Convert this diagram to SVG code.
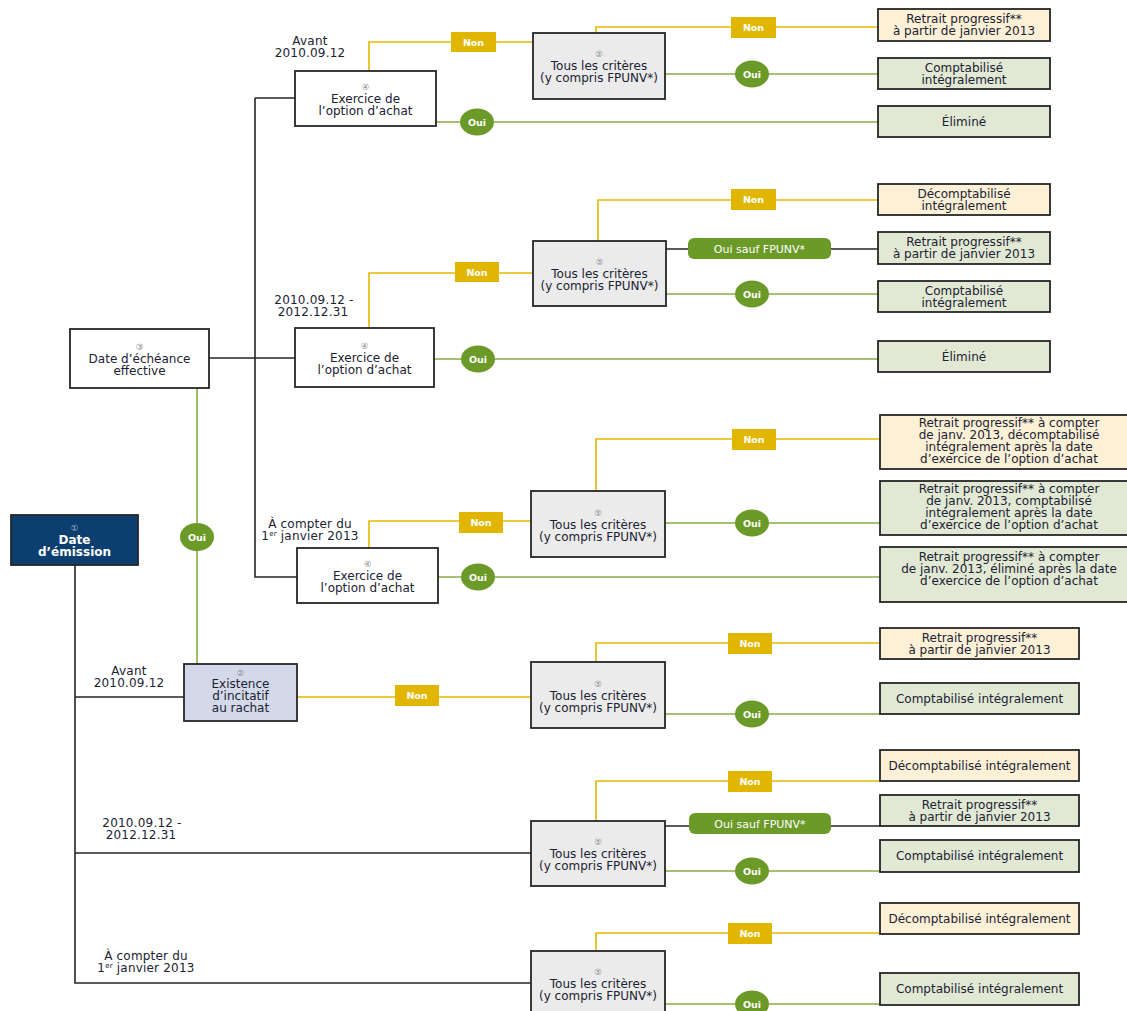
<svg xmlns="http://www.w3.org/2000/svg" width="1127" height="1011" viewBox="0 0 1127 1011">
<style>
.bx{stroke:#262626;stroke-width:1.8}
.w{fill:#ffffff}.tous{fill:#ebebeb}.cr{fill:#fcf0d6}.gr{fill:#e1e8d3}.ex{fill:#d4d9e9}.em{fill:#0c3f70}
.t{font-family:"DejaVu Sans","Liberation Sans",sans-serif;font-size:12px;fill:#1b2233;text-anchor:middle}
.lb{font-family:"DejaVu Sans","Liberation Sans",sans-serif;font-size:12px;fill:#1b2233;text-anchor:middle;letter-spacing:0.2px}
.n{font-size:8.5px;fill:#8a8a8a}
.nw{font-size:8.5px;fill:#9fb3cc;font-weight:normal}
.wt{fill:#ffffff;font-weight:bold}
.blk{stroke:#262626;stroke-width:1.6;fill:none}
.yel{stroke:#e3b900;stroke-width:1.6;fill:none}
.grn{stroke:#86ad45;stroke-width:1.6;fill:none}
.non{fill:#e0b600}
.oui{fill:#6b9a29}
.bt{font-family:"DejaVu Sans","Liberation Sans",sans-serif;font-size:9.5px;fill:#ffffff;font-weight:bold;text-anchor:middle}
.bs{font-family:"DejaVu Sans","Liberation Sans",sans-serif;font-size:11px;fill:#ffffff;text-anchor:middle}
.sup{font-size:7px}
</style>
<rect width="1127" height="1011" fill="#ffffff"/>
<g id="connectors">
<path class="blk" d="M75,565 V983 H531 M75,697 H184 M75,853 H531 M209,358 H295 M255,98 V577 H297 M255,98 H295 M666,249 H878 M665,826 H880"/>
<path class="yel" d="M369,71 V42 H533 M596,33 V27 H878 M369,328 V273 H533 M598,241 V200 H878 M369,548 V521 H531 M596,491 V439 H880 M297,697 H531 M596,662 V643 H880 M596,821 V781 H880 M596,951 V933 H880"/>
<path class="grn" d="M436,122 H878 M665,74 H878 M666,294 H878 M434,359 H878 M665,523 H880 M438,577 H880 M197,388 V664 M665,714 H880 M665,871 H880 M665,1004 H880"/>
<g id="labels-non">
<rect class="non" x="451" y="32" width="45" height="20"/><text class="bt" x="473.5" y="45.5">Non</text>
<rect class="non" x="731" y="17" width="45" height="21"/><text class="bt" x="753.5" y="31">Non</text>
<rect class="non" x="455" y="262" width="44" height="20"/><text class="bt" x="477" y="275.5">Non</text>
<rect class="non" x="731" y="189" width="45" height="21"/><text class="bt" x="753.5" y="203">Non</text>
<rect class="non" x="459" y="512" width="44" height="21"/><text class="bt" x="481" y="526">Non</text>
<rect class="non" x="732" y="429" width="44" height="21"/><text class="bt" x="754" y="443">Non</text>
<rect class="non" x="395" y="685" width="44" height="21"/><text class="bt" x="417" y="699">Non</text>
<rect class="non" x="728" y="633" width="44" height="21"/><text class="bt" x="750" y="647">Non</text>
<rect class="non" x="728" y="771" width="44" height="21"/><text class="bt" x="750" y="785">Non</text>
<rect class="non" x="728" y="923" width="44" height="21"/><text class="bt" x="750" y="937">Non</text>
</g>
<g id="labels-oui">
<ellipse class="oui" cx="477" cy="122" rx="17" ry="13.5"/><text class="bt" x="477" y="125.5">Oui</text>
<ellipse class="oui" cx="752" cy="74" rx="17" ry="13.5"/><text class="bt" x="752" y="77.5">Oui</text>
<ellipse class="oui" cx="752" cy="294" rx="17" ry="13.5"/><text class="bt" x="752" y="297.5">Oui</text>
<ellipse class="oui" cx="478" cy="359" rx="17" ry="13.5"/><text class="bt" x="478" y="362.5">Oui</text>
<ellipse class="oui" cx="752" cy="523" rx="17" ry="13.5"/><text class="bt" x="752" y="526.5">Oui</text>
<ellipse class="oui" cx="478" cy="577" rx="17" ry="13.5"/><text class="bt" x="478" y="580.5">Oui</text>
<ellipse class="oui" cx="197" cy="537" rx="17" ry="14"/><text class="bt" x="197" y="540.5">Oui</text>
<ellipse class="oui" cx="752" cy="714" rx="17" ry="13.5"/><text class="bt" x="752" y="717.5">Oui</text>
<ellipse class="oui" cx="752" cy="871" rx="17" ry="13.5"/><text class="bt" x="752" y="874.5">Oui</text>
<ellipse class="oui" cx="752" cy="1004" rx="17" ry="13.5"/><text class="bt" x="752" y="1007.5">Oui</text>
<rect class="oui" x="688" y="238" width="143" height="21" rx="6"/><text class="bs" x="759.5" y="252.5">Oui sauf FPUNV*</text>
<rect class="oui" x="689" y="813" width="142" height="21" rx="6"/><text class="bs" x="760" y="827.5">Oui sauf FPUNV*</text>
</g>
<g id="branch-labels">
<text class="lb" x="310" y="44.5">Avant<tspan x="310" dy="12">2010.09.12</tspan></text>
<text class="lb" x="314" y="303.5">2010.09.12 -<tspan x="313" dy="12">2012.12.31</tspan></text>
<text class="lb" x="310" y="527.5">À compter du<tspan x="310" dy="12">1</tspan><tspan class="sup" dy="-4">er</tspan><tspan dy="4"> janvier 2013</tspan></text>
<text class="lb" x="129" y="674.5">Avant<tspan x="129" dy="12">2010.09.12</tspan></text>
<text class="lb" x="142" y="826.5">2010.09.12 -<tspan x="141" dy="12">2012.12.31</tspan></text>
<text class="lb" x="146" y="959.5">À compter du<tspan x="146" dy="12">1</tspan><tspan class="sup" dy="-4">er</tspan><tspan dy="4"> janvier 2013</tspan></text>
</g>
</g>
<g id="date-emission"><rect class="bx em" x="11" y="515" width="127" height="50"/><text class="t wt" x="74.5" y="530.5"><tspan class="nw">①</tspan><tspan x="74.5" dy="13">Date</tspan><tspan x="74.5" dy="12">d’émission</tspan></text></g>
<g id="date-echeance"><rect class="bx w" x="70" y="329" width="139" height="59"/><text class="t" x="139.5" y="349.5"><tspan class="n">③</tspan><tspan x="139.5" dy="13">Date d’échéance</tspan><tspan x="139.5" dy="12">effective</tspan></text></g>
<g id="existence"><rect class="bx ex" x="184" y="664" width="113" height="57"/><text class="t" x="240.5" y="675.5"><tspan class="n">②</tspan><tspan x="240.5" dy="12">Existence</tspan><tspan x="240.5" dy="12">d’incitatif</tspan><tspan x="240.5" dy="12">au rachat</tspan></text></g>
<g id="exercice-1"><rect class="bx w" x="295" y="71" width="141" height="55"/><text class="t" x="365.5" y="89.5"><tspan class="n">④</tspan><tspan x="365.5" dy="13">Exercice de</tspan><tspan x="365.5" dy="12">l’option d’achat</tspan></text></g>
<g id="exercice-2"><rect class="bx w" x="295" y="328" width="139" height="59"/><text class="t" x="364.5" y="348.5"><tspan class="n">④</tspan><tspan x="364.5" dy="13">Exercice de</tspan><tspan x="364.5" dy="12">l’option d’achat</tspan></text></g>
<g id="exercice-3"><rect class="bx w" x="297" y="548" width="141" height="55"/><text class="t" x="367.5" y="566.5"><tspan class="n">④</tspan><tspan x="367.5" dy="13">Exercice de</tspan><tspan x="367.5" dy="12">l’option d’achat</tspan></text></g>
<g id="tous-1"><rect class="bx tous" x="533" y="33" width="132" height="66"/><text class="t" x="599" y="57"><tspan class="n">⑤</tspan><tspan x="599" dy="13">Tous les critères</tspan><tspan x="599" dy="12">(y compris FPUNV*)</tspan></text></g>
<g id="tous-2"><rect class="bx tous" x="533" y="241" width="133" height="65"/><text class="t" x="599.5" y="265"><tspan class="n">⑤</tspan><tspan x="599.5" dy="12.5">Tous les critères</tspan><tspan x="599.5" dy="12">(y compris FPUNV*)</tspan></text></g>
<g id="tous-3"><rect class="bx tous" x="531" y="491" width="134" height="66"/><text class="t" x="598" y="516"><tspan class="n">⑤</tspan><tspan x="598" dy="12.5">Tous les critères</tspan><tspan x="598" dy="12">(y compris FPUNV*)</tspan></text></g>
<g id="tous-4"><rect class="bx tous" x="531" y="662" width="134" height="66"/><text class="t" x="598" y="687"><tspan class="n">⑤</tspan><tspan x="598" dy="12.5">Tous les critères</tspan><tspan x="598" dy="12">(y compris FPUNV*)</tspan></text></g>
<g id="tous-5"><rect class="bx tous" x="531" y="821" width="134" height="65"/><text class="t" x="598" y="845"><tspan class="n">⑤</tspan><tspan x="598" dy="12.5">Tous les critères</tspan><tspan x="598" dy="12">(y compris FPUNV*)</tspan></text></g>
<g id="tous-6"><rect class="bx tous" x="531" y="951" width="134" height="68"/><text class="t" x="598" y="975"><tspan class="n">⑤</tspan><tspan x="598" dy="12.5">Tous les critères</tspan><tspan x="598" dy="12">(y compris FPUNV*)</tspan></text></g>
<g id="r1"><rect class="bx cr" x="878" y="9" width="172" height="32"/><text class="t" x="964" y="22.5">Retrait progressif**<tspan x="964" dy="12">à partir de janvier 2013</tspan></text></g>
<g id="r2"><rect class="bx gr" x="878" y="58" width="172" height="31"/><text class="t" x="964" y="71.5">Comptabilisé<tspan x="964" dy="12">intégralement</tspan></text></g>
<g id="r3"><rect class="bx gr" x="878" y="106" width="172" height="31"/><text class="t" x="964" y="126">Éliminé</text></g>
<g id="r4"><rect class="bx cr" x="878" y="184" width="172" height="31"/><text class="t" x="964" y="197.5">Décomptabilisé<tspan x="964" dy="12">intégralement</tspan></text></g>
<g id="r5"><rect class="bx gr" x="878" y="232" width="172" height="32"/><text class="t" x="964" y="245.5">Retrait progressif**<tspan x="964" dy="12">à partir de janvier 2013</tspan></text></g>
<g id="r6"><rect class="bx gr" x="878" y="281" width="172" height="31"/><text class="t" x="964" y="294.5">Comptabilisé<tspan x="964" dy="12">intégralement</tspan></text></g>
<g id="r7"><rect class="bx gr" x="878" y="341" width="172" height="31"/><text class="t" x="964" y="361">Éliminé</text></g>
<g id="r8"><rect class="bx cr" x="880" y="415" width="254" height="54"/><text class="t" x="1009" y="427">Retrait progressif** à compter<tspan x="1009" dy="12">de janv. 2013, décomptabilisé</tspan><tspan x="1009" dy="12">intégralement après la date</tspan><tspan x="1009" dy="12">d’exercice de l’option d’achat</tspan></text></g>
<g id="r9"><rect class="bx gr" x="880" y="481" width="254" height="54"/><text class="t" x="1009" y="493">Retrait progressif** à compter<tspan x="1009" dy="12">de janv. 2013, comptabilisé</tspan><tspan x="1009" dy="12">intégralement après la date</tspan><tspan x="1009" dy="12">d’exercice de l’option d’achat</tspan></text></g>
<g id="r10"><rect class="bx gr" x="880" y="547" width="254" height="55"/><text class="t" x="1009" y="561">Retrait progressif** à compter<tspan x="1009" dy="12">de janv. 2013, éliminé après la date</tspan><tspan x="1009" dy="12">d’exercice de l’option d’achat</tspan></text></g>
<g id="r11"><rect class="bx cr" x="880" y="628" width="199" height="31"/><text class="t" x="979.5" y="641.5">Retrait progressif**<tspan x="979.5" dy="12">à partir de janvier 2013</tspan></text></g>
<g id="r12"><rect class="bx gr" x="880" y="683" width="199" height="31"/><text class="t" x="979.5" y="702.5">Comptabilisé intégralement</text></g>
<g id="r13"><rect class="bx cr" x="880" y="750" width="199" height="31"/><text class="t" x="979.5" y="769.5">Décomptabilisé intégralement</text></g>
<g id="r14"><rect class="bx gr" x="880" y="795" width="199" height="31"/><text class="t" x="979.5" y="808.5">Retrait progressif**<tspan x="979.5" dy="12">à partir de janvier 2013</tspan></text></g>
<g id="r15"><rect class="bx gr" x="880" y="840" width="199" height="32"/><text class="t" x="979.5" y="860">Comptabilisé intégralement</text></g>
<g id="r16"><rect class="bx cr" x="880" y="903" width="199" height="31"/><text class="t" x="979.5" y="922.5">Décomptabilisé intégralement</text></g>
<g id="r17"><rect class="bx gr" x="880" y="973" width="199" height="32"/><text class="t" x="979.5" y="993">Comptabilisé intégralement</text></g>
</svg>
